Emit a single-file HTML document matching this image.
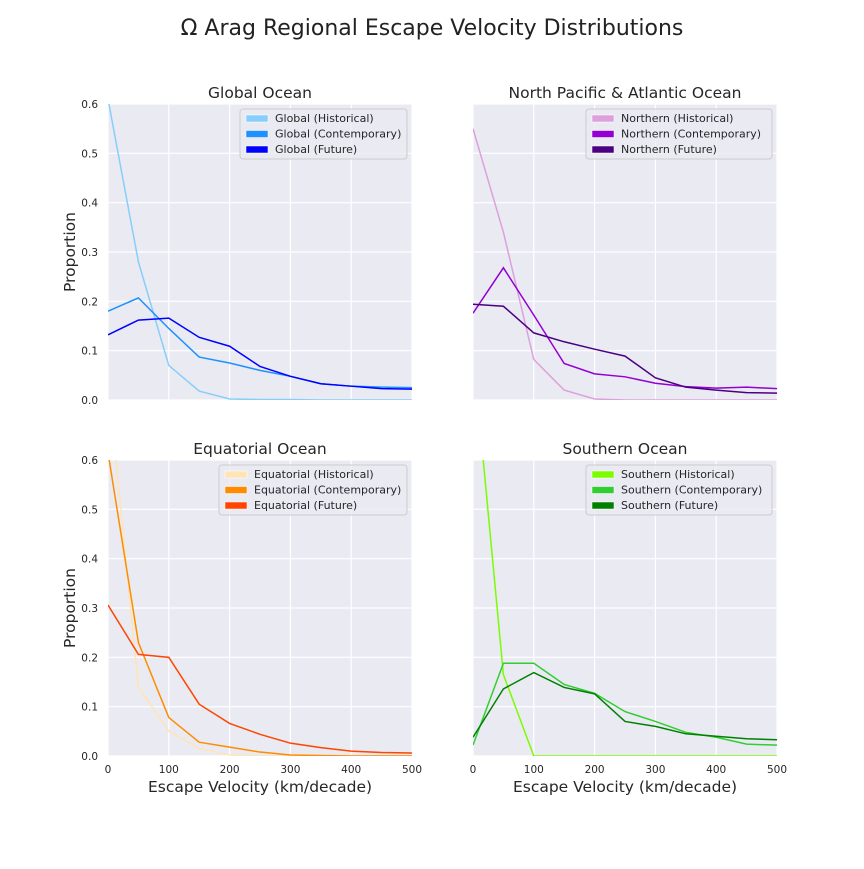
<!DOCTYPE html>
<html><head><meta charset="utf-8"><style>
body{margin:0;background:#fff;}
svg{font-family:"DejaVu Sans","Liberation Sans",sans-serif;}
</style></head><body>
<svg id="chart" width="864" height="864">
<text x="432" y="35" text-anchor="middle" font-size="22" fill="#222">Ω Arag Regional Escape Velocity Distributions</text>
</svg>
<script>
const xValues=[0,50,100,150,200,250,300,350,400,450,500];
const xTicks=[0,100,200,300,400,500];
const yTicks=[0.0,0.1,0.2,0.3,0.4,0.5,0.6];
const panelTitles=["Global Ocean","North Pacific & Atlantic Ocean","Equatorial Ocean","Southern Ocean"];
const seriesNames=[
 ["Global (Historical)","Global (Contemporary)","Global (Future)"],
 ["Northern (Historical)","Northern (Contemporary)","Northern (Future)"],
 ["Equatorial (Historical)","Equatorial (Contemporary)","Equatorial (Future)"],
 ["Southern (Historical)","Southern (Contemporary)","Southern (Future)"]];
const globalHist=[0.61,0.28,0.07,0.018,0.002,0.001,0.001,0,0,0,0];
const globalCont=[0.18,0.207,0.145,0.087,0.075,0.06,0.048,0.033,0.028,0.026,0.025];
const globalFut=[0.132,0.162,0.166,0.127,0.109,0.068,0.048,0.033,0.028,0.023,0.022];
const northHist=[0.55,0.34,0.082,0.02,0.002,0,0,0,0,0,0];
const northCont=[0.176,0.268,0.172,0.074,0.053,0.047,0.034,0.027,0.024,0.026,0.023];
const northFut=[0.194,0.19,0.136,0.118,0.103,0.089,0.045,0.026,0.02,0.015,0.014];
const equaHist=[0.76,0.14,0.05,0.015,0.002,0,0,0,0,0,0];
const equaCont=[0.615,0.23,0.078,0.028,0.018,0.008,0.002,0.001,0,0,0];
const equaFut=[0.306,0.206,0.2,0.105,0.066,0.044,0.026,0.017,0.01,0.007,0.006];
const southHist=[0.82,0.165,0,0,0,0,0,0,0,0,0];
const southCont=[0.022,0.188,0.188,0.145,0.127,0.09,0.07,0.048,0.038,0.024,0.022];
const southFut=[0.038,0.136,0.169,0.139,0.126,0.07,0.06,0.045,0.04,0.035,0.033];
const panelData=[[globalHist,globalCont,globalFut],[northHist,northCont,northFut],[equaHist,equaCont,equaFut],[southHist,southCont,southFut]];
const colors=[["#87CEFA","#1E90FF","#0000FF"],["#DDA0DD","#9400D3","#4B0082"],["#FFE4B5","#FF8C00","#FF4500"],["#7CFC00","#32CD32","#008000"]];
const NS="http://www.w3.org/2000/svg";
const svg=document.getElementById('chart');
function mk(tag,attrs,parent){const e=document.createElementNS(NS,tag);for(const k in attrs)e.setAttribute(k,attrs[k]);(parent||svg).appendChild(e);return e;}
const panels=[{x:108,y:104},{x:473,y:104},{x:108,y:460},{x:473,y:460}];
const W=304,H=296;
const slug=["global","northern","equatorial","southern"];
const legendW=[167,186,188,186];
panels.forEach((p,i)=>{
 const g=mk('g',{});
 
 
 const sx=v=>p.x+v/500*W, sy=v=>p.y+H-v/0.6*H;
 const cid='clip'+i;
 const cp=mk('clipPath',{id:cid},g);mk('rect',{x:p.x,y:p.y,width:W,height:H},cp);
 const bg=mk('rect',{x:p.x,y:p.y,width:W,height:H,fill:'#EAEAF2'},g);
 
 
 xTicks.forEach(t=>{mk('line',{x1:sx(t),x2:sx(t),y1:p.y,y2:p.y+H,stroke:'#fff','stroke-width':1.2},g);
  if(i>=2){const tl=mk('text',{x:sx(t),y:p.y+H+17,'text-anchor':'middle','font-size':10.5,fill:'#262626'},g);tl.textContent=t;
  
  }});
 yTicks.forEach(t=>{mk('line',{x1:p.x,x2:p.x+W,y1:sy(t),y2:sy(t),stroke:'#fff','stroke-width':1.2},g);
  if(i%2==0){const tl=mk('text',{x:p.x-10,y:sy(t)+4,'text-anchor':'end','font-size':10.5,fill:'#262626'},g);tl.textContent=t.toFixed(1);
  
  }});
 const tt=mk('text',{x:p.x+W/2,y:p.y-6,'text-anchor':'middle','font-size':15.5,fill:'#262626'},g);tt.textContent=panelTitles[i];
 
 
 if(i%2==0){const yl=mk('text',{x:0,y:0,transform:`translate(75,${p.y+H/2}) rotate(-90)`,'text-anchor':'middle','font-size':15.5,fill:'#262626'},g);yl.textContent='Proportion';
  
  }
 if(i>=2){const xl=mk('text',{x:p.x+W/2,y:p.y+H+36,'text-anchor':'middle','font-size':15.5,fill:'#262626'},g);xl.textContent='Escape Velocity (km/decade)';
  
  }
 panelData[i].forEach((s,j)=>{
  const pts=s.map((v,k)=>sx(xValues[k])+','+sy(v)).join(' ');
  const pl=mk('polyline',{points:pts,fill:'none',stroke:colors[i][j],'stroke-width':1.5,'clip-path':`url(#${cid})`},g);
  
  
 });
 const lw=legendW[i],lx=p.x+W-5-lw,ly=p.y+5;
 const lg=mk('g',{},g);
 
 
 mk('rect',{x:lx,y:ly,width:lw,height:50,rx:3,fill:'#EAEAF2','fill-opacity':0.8,stroke:'#ccc'},lg);
 seriesNames[i].forEach((n,j)=>{
  const e=mk('g',{},lg);
  
  
  mk('rect',{x:lx+6,y:ly+6+j*15.5,width:22,height:7,fill:colors[i][j],stroke:'#fff','stroke-width':0.5},e);
  const t=mk('text',{x:lx+35,y:ly+13+j*15.5,'font-size':11,fill:'#262626'},e);t.textContent=n;
 });
});
</script>
</body></html>
